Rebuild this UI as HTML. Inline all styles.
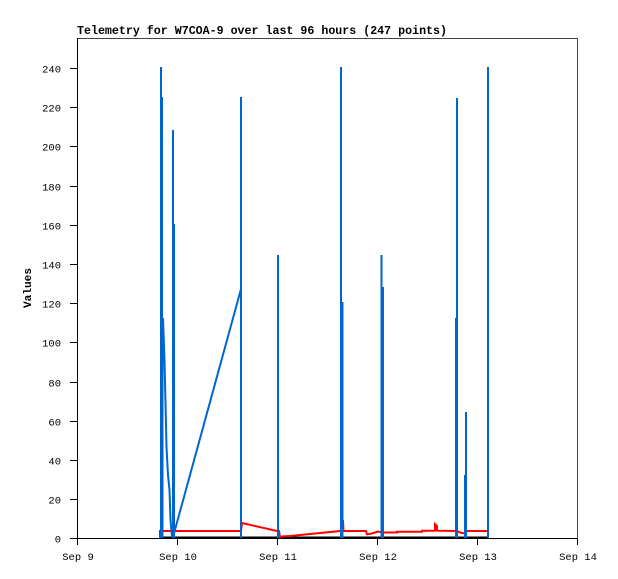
<!DOCTYPE html>
<html><head><meta charset="utf-8"><style>
html,body{margin:0;padding:0;background:#fff;}
svg{display:block;}
text{font-family:"Liberation Mono","DejaVu Sans Mono",monospace;fill:#000;}
</style></head><body>
<svg width="618" height="579" viewBox="0 0 618 579" xmlns="http://www.w3.org/2000/svg">
<rect width="618" height="579" fill="#fff"/>
<text x="77" y="34" font-size="11.6" font-weight="bold" textLength="370" lengthAdjust="spacingAndGlyphs">Telemetry for W7COA-9 over last 96 hours (247 points)</text>
<text transform="translate(31,288) rotate(-90)" font-size="11" font-weight="bold" text-anchor="middle" textLength="40" lengthAdjust="spacingAndGlyphs">Values</text>
<!-- frame -->
<line x1="77" y1="38.5" x2="578" y2="38.5" stroke="#444" stroke-width="1"/>
<line x1="577.5" y1="38" x2="577.5" y2="538" stroke="#444" stroke-width="1"/>
<line x1="77.5" y1="38" x2="77.5" y2="539" stroke="#000" stroke-width="1"/>
<line x1="77" y1="538.5" x2="578" y2="538.5" stroke="#000" stroke-width="1"/>
<!-- y ticks -->
<g stroke="#000" stroke-width="1">
<line x1="70" y1="538.5" x2="77" y2="538.5"/>
<line x1="70" y1="499.5" x2="77" y2="499.5"/>
<line x1="70" y1="460.5" x2="77" y2="460.5"/>
<line x1="70" y1="421.5" x2="77" y2="421.5"/>
<line x1="70" y1="382.5" x2="77" y2="382.5"/>
<line x1="70" y1="342.5" x2="77" y2="342.5"/>
<line x1="70" y1="303.5" x2="77" y2="303.5"/>
<line x1="70" y1="264.5" x2="77" y2="264.5"/>
<line x1="70" y1="225.5" x2="77" y2="225.5"/>
<line x1="70" y1="186.5" x2="77" y2="186.5"/>
<line x1="70" y1="146.5" x2="77" y2="146.5"/>
<line x1="70" y1="107.5" x2="77" y2="107.5"/>
<line x1="70" y1="68.5" x2="77" y2="68.5"/>
</g>
<g font-size="10.5" text-anchor="end">
<text x="61" y="542.5">0</text>
<text x="61" y="503.5">20</text>
<text x="61" y="464.5">40</text>
<text x="61" y="425.5">60</text>
<text x="61" y="386.5">80</text>
<text x="61" y="346.5">100</text>
<text x="61" y="307.5">120</text>
<text x="61" y="268.5">140</text>
<text x="61" y="229.5">160</text>
<text x="61" y="190.5">180</text>
<text x="61" y="150.5">200</text>
<text x="61" y="111.5">220</text>
<text x="61" y="72.5">240</text>
</g>
<!-- x ticks -->
<g stroke="#000" stroke-width="1">
<line x1="77.5" y1="538" x2="77.5" y2="545"/>
<line x1="177.5" y1="538" x2="177.5" y2="545"/>
<line x1="277.5" y1="538" x2="277.5" y2="545"/>
<line x1="377.5" y1="538" x2="377.5" y2="545"/>
<line x1="477.5" y1="538" x2="477.5" y2="545"/>
<line x1="577.5" y1="538" x2="577.5" y2="545"/>
</g>
<g font-size="10.5" text-anchor="middle">
<text x="78" y="560">Sep 9</text>
<text x="178" y="560">Sep 10</text>
<text x="278" y="560">Sep 11</text>
<text x="378" y="560">Sep 12</text>
<text x="478" y="560">Sep 13</text>
<text x="578" y="560">Sep 14</text>
</g>
<!-- black series -->
<line x1="160" y1="537.5" x2="489" y2="537.5" stroke="#000" stroke-width="2"/>
<!-- red series -->
<polyline fill="none" stroke="#ff0000" stroke-width="2" stroke-linejoin="miter" points="160,538 160,531 241,531 242,523 277,531 279,531 280,537 282,536.5 290,536 300,535 310,534 320,533 330,532 340,531 342,531 343,520 343.5,531 366,531 367,534.3 372,533.5 378,531.5 382,532.5 397,532.5 397,531.7 422,531.7 422,530.7 435,530.7 435,524 437,526 437,530.7 457,531 460,532.5 465,533.5 467,531 488,531"/>
<!-- blue lines -->
<polyline fill="none" stroke="#0066cc" stroke-width="2" points="163,318 164.5,360 165.5,403 166.5,447 168,475 169.5,490 170.5,520 172,537"/>
<polyline fill="none" stroke="#0066cc" stroke-width="2" points="173,537 241,289"/>
<!-- blue spikes -->
<g fill="#0066cc">
<rect x="160" y="67" width="2" height="471"/>
<rect x="161" y="97" width="2" height="441"/>
<rect x="161" y="318" width="2.5" height="220"/>
<rect x="172" y="130" width="2" height="408"/>
<rect x="173" y="224" width="2" height="314"/>
<rect x="240" y="97" width="2" height="441"/>
<rect x="277" y="255" width="2" height="283"/>
<rect x="340" y="67" width="2" height="471"/>
<rect x="341.5" y="302" width="2" height="236"/>
<rect x="380.5" y="255" width="2" height="283"/>
<rect x="382" y="287" width="2" height="251"/>
<rect x="455" y="318" width="2" height="220"/>
<rect x="456" y="98" width="2" height="440"/>
<rect x="464" y="475" width="2" height="63"/>
<rect x="465" y="412" width="2" height="126"/>
<rect x="487" y="67" width="2" height="471"/>
</g>
</svg>
</body></html>
